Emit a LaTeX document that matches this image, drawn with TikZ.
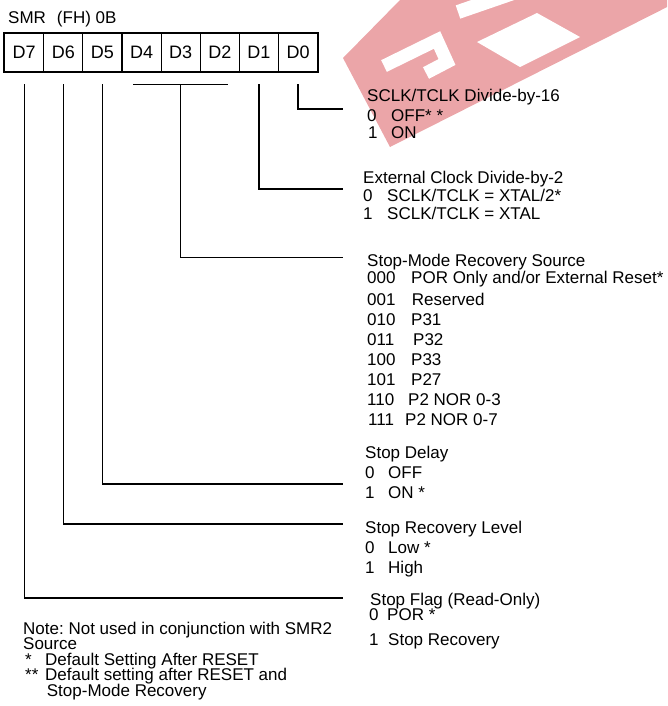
\documentclass[tikz,border=0pt]{standalone}
\usepackage{fontspec}
\setmainfont{Liberation Sans}
\frenchspacing
\definecolor{wmred}{RGB}{235,165,168}
\begin{document}
\begin{tikzpicture}[x=1pt,y=-1pt,
  txt/.style={anchor=base west, inner sep=0pt, font=\fontsize{17}{20}\selectfont},
  cell/.style={draw, line width=1.2pt, minimum width=39.125pt, minimum height=38pt,
    inner sep=0pt, anchor=north west, font=\fontsize{18}{20}\selectfont},
  conn/.style={line width=1.3pt}]
\useasboundingbox (0,0) rectangle (667,706);
% watermark
\begin{scope}
\clip (0,0) rectangle (667,706);
\fill[wmred] (390,147) -- (343,58) -- (402,-2) -- (685,-2) -- cycle;
\draw[white, line width=13pt] (384,66) -- (437,40) -- (447,62) -- (426,73);
\draw[white, line width=14pt] (458,12) -- (545,-18);
\fill[white] (477,42) -- (537,13) -- (580,37) -- (520,67) -- cycle;
\end{scope}
% header
\node[txt] (title) at (8,23.3) {SMR\hspace{11pt}(FH) 0B};
% register cells
\foreach \n [count=\i from 0] in {7,6,5,4,3,2,1,0}{
  \node[cell] (d\n) at (4+39.125*\i,33) {D\n};
}
\draw[line width=2.3pt] (d7.north west) rectangle (d0.south east);
% tap coordinates
\foreach \n in {7,6,5,3,1,0}{
  \coordinate (t\n) at ([yshift=-12pt]d\n.south);
}
\coordinate (b4) at ([xshift=12pt,yshift=-12pt]d4.south west);
\coordinate (b2) at ([xshift=-12pt,yshift=-12pt]d2.south east);
\coordinate (e0) at (343,109);
\coordinate (e1) at (343,189);
\coordinate (e3) at (343,257.7);
\coordinate (e5) at (343,484);
\coordinate (e6) at (343,524);
\coordinate (e7) at (343,598);
\draw[conn] (b4) -- (b2);
\draw[conn] (t0) |- (e0);
\draw[conn] (t1) |- (e1);
\draw[conn] (t3) |- (e3);
\draw[conn] (t5) |- (e5);
\draw[conn] (t6) |- (e6);
\draw[conn] (t7) |- (e7);
% block D0
\node[txt] (a0) at (367,101.7) {SCLK/TCLK Divide-by-16};
\node[txt] (a1) at (367,121.7) {0};
\node[txt] (a2) at (391,121.7) {OFF* *};
\node[txt] (a3) at (368,139) {1};
\node[txt] (a4) at (391,139) {ON};
% block D1
\node[txt] (c0) at (363,183.3) {External Clock Divide-by-2};
\node[txt] (c1) at (363,201) {0};
\node[txt] (c2) at (387,201) {SCLK/TCLK = XTAL/2*};
\node[txt] (c3) at (363,219) {1};
\node[txt] (c4) at (387,219) {SCLK/TCLK = XTAL};
% block D4-D2
\node[txt] (s0) at (367,266.7) {Stop-Mode Recovery Source};
\node[txt] (s1) at (367,283.3) {000};
\node[txt] (s2) at (411,283.3) {POR Only and/or External Reset*};
\node[txt] (s3) at (367,305) {001};
\node[txt] (s4) at (411.7,305) {Reserved};
\node[txt] (s5) at (367,325) {010};
\node[txt] (s6) at (411,325) {P31};
\node[txt] (s7) at (367,345) {011};
\node[txt] (s8) at (413,345) {P32};
\node[txt] (s9) at (367,365) {100};
\node[txt] (s10) at (411,365) {P33};
\node[txt] (s11) at (367,385) {101};
\node[txt] (s12) at (411,385) {P27};
\node[txt] (s13) at (367,405) {110};
\node[txt] (s14) at (408,405) {P2 NOR 0-3};
\node[txt] (s15) at (368,425) {111};
\node[txt] (s16) at (405,425) {P2 NOR 0-7};
% block D5
\node[txt] (p0) at (365,458) {Stop Delay};
\node[txt] (p1) at (365,478) {0};
\node[txt] (p2) at (388,478) {OFF};
\node[txt] (p3) at (365,498) {1};
\node[txt] (p4) at (388,498) {ON *};
% block D6
\node[txt] (l0) at (365,533.3) {Stop Recovery Level};
\node[txt] (l1) at (365,553.3) {0};
\node[txt] (l2) at (388,553.3) {Low *};
\node[txt] (l3) at (365,573.3) {1};
\node[txt] (l4) at (388,573.3) {High};
% block D7
\node[txt] (f0) at (370,605) {Stop Flag (Read-Only)};
\node[txt] (f1) at (369,620.5) {0};
\node[txt] (f2) at (387,620.5) {POR *};
\node[txt] (f3) at (369,645) {1};
\node[txt] (f4) at (388,645) {Stop Recovery};
% notes
\node[txt] (n0) at (23,634) {Note: Not used in conjunction with SMR2};
\node[txt] (n1) at (23,649.5) {Source};
\node[txt] (n2) at (25,665) {*};
\node[txt] (n3) at (45,665) {Default Setting After RESET};
\node[txt] (n4) at (25,680.5) {**};
\node[txt] (n5) at (45,680.5) {Default setting after RESET and};
\node[txt] (n6) at (46.7,696) {Stop-Mode Recovery};
\end{tikzpicture}
\end{document}
